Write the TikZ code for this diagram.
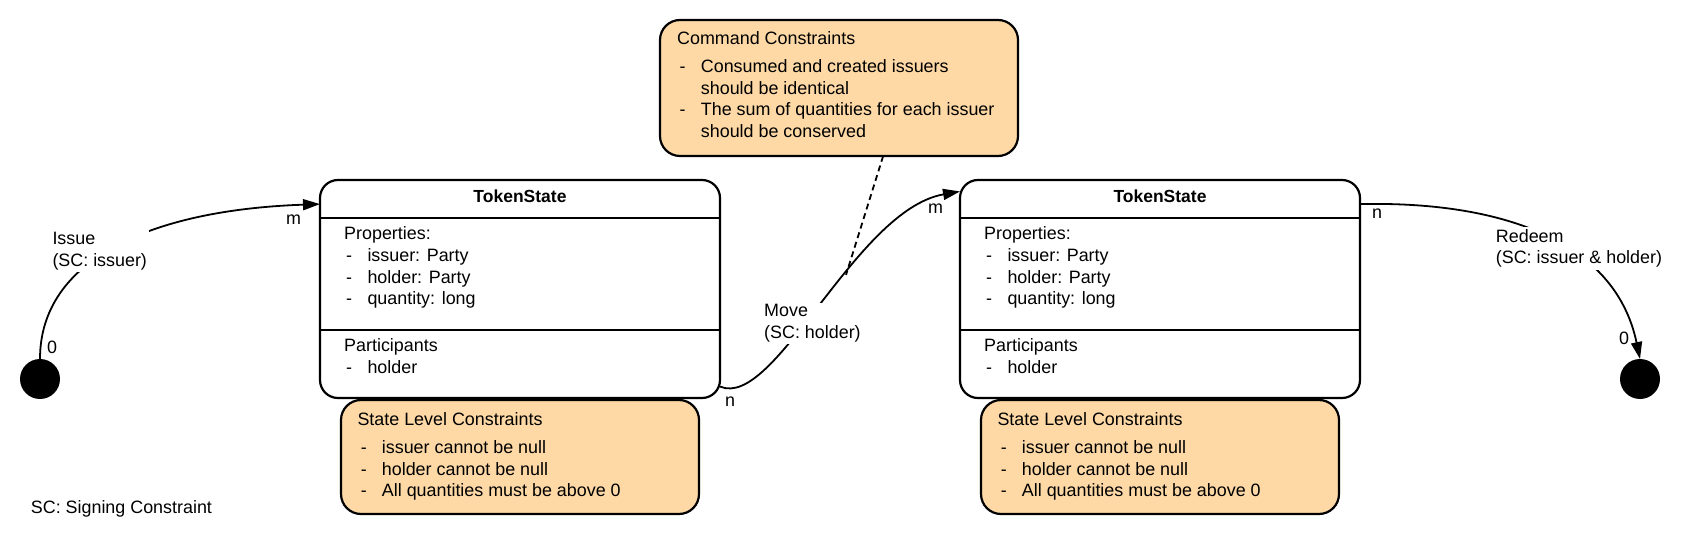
\documentclass[tikz,border=0pt]{standalone}
\usepackage{fontspec}
\setmainfont{Liberation Sans}
\usetikzlibrary{arrows.meta}
\definecolor{notefill}{RGB}{254,217,166}
\newcommand\fs{\fontsize{17.9}{21.5}\selectfont}
\begin{document}
\begin{tikzpicture}[x=1pt,y=-1pt,
  tokbox/.style={draw, line width=2.2pt, rounded corners=18pt, minimum width=400pt, minimum height=218pt, inner sep=0pt, outer sep=0pt, fill=white},
  notebox/.style={draw, line width=2.2pt, rounded corners=20pt, fill=notefill, inner sep=0pt, outer sep=0pt},
  divline/.style={line width=2.2pt},
  txt/.style={anchor=base west, inner sep=0pt, font=\fs},
  lbl/.style={anchor=west, fill=white, inner sep=2pt, font=\fs, align=left},
  conn/.style={line width=1.8pt},
  arr/.style={conn, -{Triangle[length=17pt,width=11pt]}},
  enddot/.style={circle, fill=black, minimum size=40pt, inner sep=0pt, outer sep=0pt}]
\useasboundingbox (0,0) rectangle (1683,545);

% command constraints
\node[notebox, minimum width=358pt, minimum height=136pt] (cmd) at (839,88) {};
\node[txt] (cmdt) at (677,45) {Command Constraints};
\node[txt] (cmdd1) at (679.5,72.7) {-};
\node[txt] (cmdi1) at (700.7,72.7) {Consumed and created issuers};
\node[txt] (cmdi2) at (700.7,94.3) {should be identical};
\node[txt] (cmdd3) at (679.5,116) {-};
\node[txt] (cmdi3) at (700.7,116) {The sum of quantities for each issuer};
\node[txt] (cmdi4) at (700.7,137.3) {should be conserved};

\foreach \dx/\n in {0/1,640/2}{
  \node[tokbox] (b\n) at (520+\dx,289) {};
  \draw[divline] ([yshift=-37.7pt]b\n.north west) -- ([yshift=-37.7pt]b\n.north east);
  \draw[divline] ([yshift=-150pt]b\n.north west) -- ([yshift=-150pt]b\n.north east);
  \node[anchor=base, inner sep=0pt, font=\fontsize{17.5}{21}\selectfont\bfseries] (t\n) at (520+\dx,202.3) {TokenState};
  \node[txt] (pr\n) at (344+\dx,240) {Properties:};
  \node[txt] (pd\n a) at (346+\dx,261.7) {-};
  \node[txt] (pi\n a) at (367.3+\dx,261.7) {issuer: Party};
  \node[txt] (pd\n b) at (346+\dx,283.3) {-};
  \node[txt] (pi\n b) at (367.3+\dx,283.3) {holder: Party};
  \node[txt] (pd\n c) at (346+\dx,305) {-};
  \node[txt] (pi\n c) at (367.3+\dx,305) {quantity: long};
  \node[txt] (pa\n) at (344+\dx,351.7) {Participants};
  \node[txt] (pad\n) at (346+\dx,373.3) {-};
  \node[txt] (pai\n) at (367.3+\dx,373.3) {holder};
  % state level constraints
  \node[notebox, minimum width=358pt, minimum height=114pt] (s\n) at (520+\dx,457) {};
  \node[txt] (st\n) at (357.3+\dx,425.7) {State Level Constraints};
  \node[txt] (sd\n a) at (360.7+\dx,453.3) {-};
  \node[txt] (si\n a) at (381.7+\dx,453.3) {issuer cannot be null};
  \node[txt] (sd\n b) at (360.7+\dx,475) {-};
  \node[txt] (si\n b) at (381.7+\dx,475) {holder cannot be null};
  \node[txt] (sd\n c) at (360.7+\dx,496.7) {-};
  \node[txt] (si\n c) at (381.7+\dx,496.7) {All quantities must be above 0};
}

% start / end states
\node[enddot] (start) at (40,379) {};
\node[enddot] (stop) at (1640,379) {};

% connectors
\draw[arr] (start.north) .. controls (40,260) and (150,210) .. (b1.157);
\draw[arr] (b1.-26) .. controls (775,410) and (855,210) .. coordinate[pos=0.6] (mv) (b2.154.4);
\draw[arr] (b2.23.75) .. controls (1500,201) and (1615,240) .. (stop.north);
\draw[conn, dash pattern=on 6pt off 4pt] (cmd.-57.7) -- (mv);

% connector labels
\node[lbl] (lissue) at (50.3,251) {Issue\\(SC: issuer)};
\node[lbl] (lmove) at (762,323.4) {Move\\(SC: holder)};
\node[lbl] (lredeem) at (1493.7,248.5) {Redeem\\(SC: issuer \& holder)};

\node[txt] (m1) at (286,225) {m};
\node[txt] (z1) at (47,353.3) {0};
\node[txt] (n1) at (725,406.7) {n};
\node[txt] (m2) at (928,213.3) {m};
\node[txt] (n2) at (1372,218.3) {n};
\node[txt] (z2) at (1619,344) {0};

\node[txt] (legend) at (30.7,513.3) {SC: Signing Constraint};
\end{tikzpicture}
\end{document}
